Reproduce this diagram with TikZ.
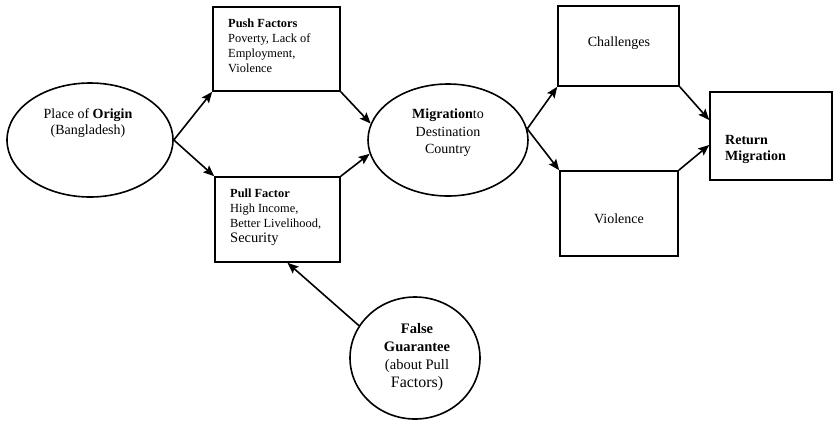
\documentclass[tikz,border=0pt]{standalone}
\usepackage{fontspec}
\setmainfont{Liberation Serif}
\usetikzlibrary{shapes.geometric,arrows.meta}
\tikzset{
  box/.style={draw, line width=1.6pt, rectangle, inner sep=0pt},
  oval/.style={draw, line width=1.6pt, ellipse, inner sep=0pt},
  txt/.style={inner sep=0pt},
  big/.style={font=\fontsize{14}{16}\selectfont},
  small/.style={font=\fontsize{12.4}{15.2}\selectfont},
  arr/.style={-{Stealth[length=11pt,width=9pt,inset=2pt]}, line width=1.6pt},
}
\begin{document}
\begin{tikzpicture}[x=1pt,y=-1pt]
\useasboundingbox (0,0) rectangle (834,421);
% shapes
\node[oval, minimum width=166pt, minimum height=114pt] (origin) at (90,140) {};
\node[box, minimum width=127pt, minimum height=84pt] (push) at (276.5,49) {};
\node[box, minimum width=125pt, minimum height=85pt] (pull) at (277.5,219.5) {};
\node[oval, minimum width=160pt, minimum height=112pt] (mig) at (448,140) {};
\node[box, minimum width=121pt, minimum height=80pt] (chal) at (618.5,46) {};
\node[box, minimum width=118pt, minimum height=85pt] (viol) at (619,213.5) {};
\node[box, minimum width=122pt, minimum height=88pt] (ret) at (771,136) {};
\node[oval, minimum width=130pt, minimum height=122pt] (fg) at (415,358) {};
% texts
\node[txt, big, align=center] (origintxt) at (88,123) {Place of \textbf{Origin}\\(Bangladesh)};
\node[txt, small, align=left, anchor=north west] (pushtxt) at (228,18.5)
  {\textbf{Push Factors}\\Poverty, Lack of\\Employment,\\Violence};
\node[txt, small, align=left, anchor=north west] (pulltxt) at (230,188.5)
  {\textbf{Pull Factor}\\High Income,\\Better Livelihood,\\{\fontsize{14.5}{16}\selectfont Security}};
\node[txt, font=\fontsize{14}{17.5}\selectfont, align=center] (migtxt) at (448,133)
  {\textbf{Migration}to\\Destination\\Country};
\node[txt, big] (chaltxt) at (619,43) {Challenges};
\node[txt, big] (violtxt) at (619,219) {Violence};
\node[txt, big, align=left, anchor=west] (rettxt) at (725,149)
  {\textbf{Return}\\\textbf{Migration}};
\node[txt, font=\fontsize{14.5}{18}\selectfont, align=center] (fgtxt) at (417,357)
  {\textbf{False}\\\textbf{Guarantee}\\(about Pull\\{\fontsize{15.9}{18}\selectfont Factors)}};
% connectors
\draw[arr] (origin.east) -- (push.south west);
\draw[arr] (origin.east) -- (pull.north west);
\draw[arr] (push.south east) -- (mig.168);
\draw[arr] (pull.north east) -- (mig.190);
\draw[arr] (mig.8) -- (chal.south west);
\draw[arr] (mig.8) -- (viol.north west);
\draw[arr] (chal.south east) -- ([yshift=16pt]ret.west);
\draw[arr] (viol.north east) -- ([yshift=-9pt]ret.west);
\draw[arr] (fg.150) -- ([xshift=10pt]pull.south);
\end{tikzpicture}
\end{document}
